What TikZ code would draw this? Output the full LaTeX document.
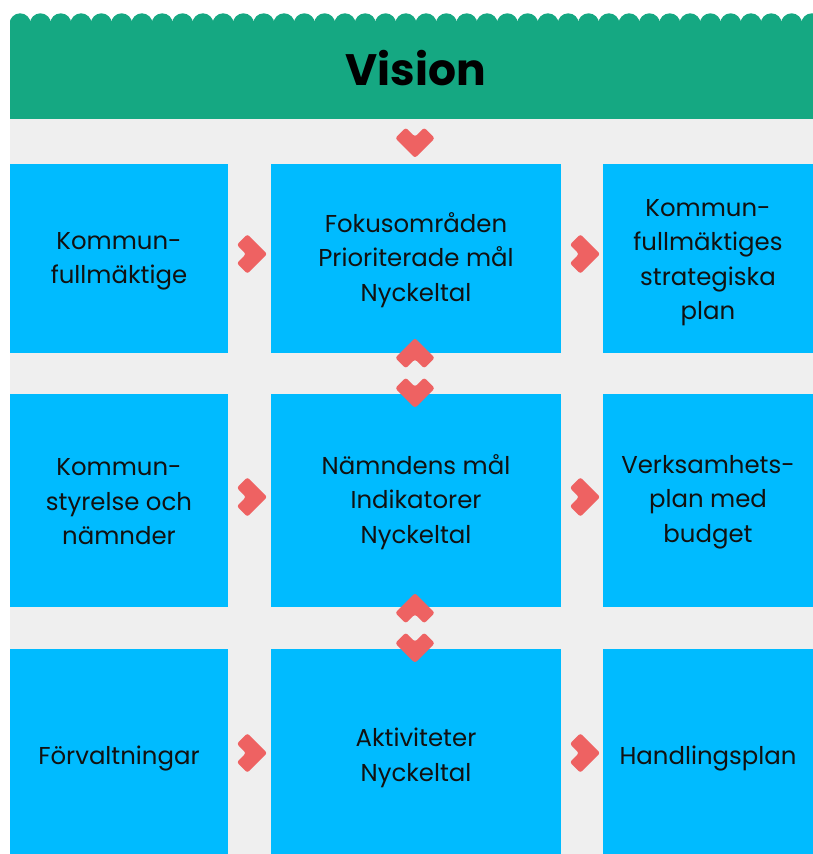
\documentclass[tikz,border=0pt]{standalone}
\usepackage{fontspec}
\setmainfont{Poppins}
\definecolor{visiongreen}{RGB}{21,168,130}
\definecolor{boxblue}{RGB}{0,187,255}
\definecolor{chevred}{RGB}{238,98,98}
\definecolor{bggray}{RGB}{239,239,239}
\definecolor{txt}{RGB}{17,17,17}
\tikzset{
  cell/.style={fill=boxblue, draw=none, inner sep=0pt},
  celltext/.style={text=txt, align=center, inner sep=0pt, yshift=-1.5pt,
    font=\fontsize{24.4}{34.5}\selectfont},
  chev/.pic={\fill[chevred, rounded corners=2.5pt]
    (0,10.6) -- (19.8,-9.2) -- (9.2,-19.8) -- (0,-10.6)
    -- (-9.2,-19.8) -- (-19.8,-9.2) -- cycle;}
}
\begin{document}
\begin{tikzpicture}[x=1pt,y=-1pt]
    \useasboundingbox (0,0) rectangle (813,854);
    %% background
    \fill[bggray] (10,118) rectangle (813,854);
    %% vision band with scalloped top
    \begin{scope}
        \clip (10,0) rectangle (813,119);
        \fill[visiongreen] (10,21) rectangle (813,118.5);
        \foreach \i in {0,...,40}
            \fill[visiongreen] ({20.15+20.3*\i},23.9) circle (10.6);
    \end{scope}
    \node[font=\fontsize{44}{50}\selectfont\bfseries, text=black] (vision) at (416,68) {Vision};
    %% row 1
    \node[cell, minimum width=218, minimum height=189] (kf) at (119,258.5) {};
    \node[cell, minimum width=290, minimum height=189] (fok) at (416,258.5) {};
    \node[cell, minimum width=210, minimum height=189] (plan) at (708,258.5) {};
    \node[celltext, yshift=-1.5pt] at (kf) {Kommun-\\fullmäktige};
    \node[celltext] at (fok) {Fokusområden\\Prioriterade mål\\Nyckeltal};
    \node[celltext, yshift=-2.5pt] at (plan) {Kommun-\\fullmäktiges\\strategiska\\plan};
    %% row 2
    \node[cell, minimum width=218, minimum height=213] (ks) at (119,500.5) {};
    \node[cell, minimum width=290, minimum height=213] (mal) at (416,500.5) {};
    \node[cell, minimum width=210, minimum height=213] (vp) at (708,500.5) {};
    \node[celltext] at (ks) {Kommun-\\styrelse och\\nämnder};
    \node[celltext] at (mal) {Nämndens mål\\Indikatorer\\Nyckeltal};
    \node[celltext] at (vp) {Verksamhets-\\plan med\\budget};
    %% row 3 (runs off the bottom)
    \node[cell, minimum width=218, minimum height=205] (forv) at (119,751.5) {};
    \node[cell, minimum width=290, minimum height=205] (akt) at (416,751.5) {};
    \node[cell, minimum width=210, minimum height=205] (hp) at (708,751.5) {};
    \node[celltext, yshift=-5pt] at (forv) {Förvaltningar};
    \node[celltext, yshift=-5pt] at (akt) {Aktiviteter\\Nyckeltal};
    \node[celltext, yshift=-5pt] at (hp) {Handlingsplan};
    %% chevrons down the middle
    \pic at (415,147.4) {chev};
    \pic[rotate=180] at (415,348.6) {chev};
    \pic at (415,397.4) {chev};
    \pic[rotate=180] at (415,603.6) {chev};
    \pic at (415,652.4) {chev};
    %% chevrons to the right
    \foreach \y in {254,497,753} {
        \pic[rotate=90] at (256.6,\y) {chev};
        \pic[rotate=90] at (589.6,\y) {chev};
    }
\end{tikzpicture}
\end{document}
